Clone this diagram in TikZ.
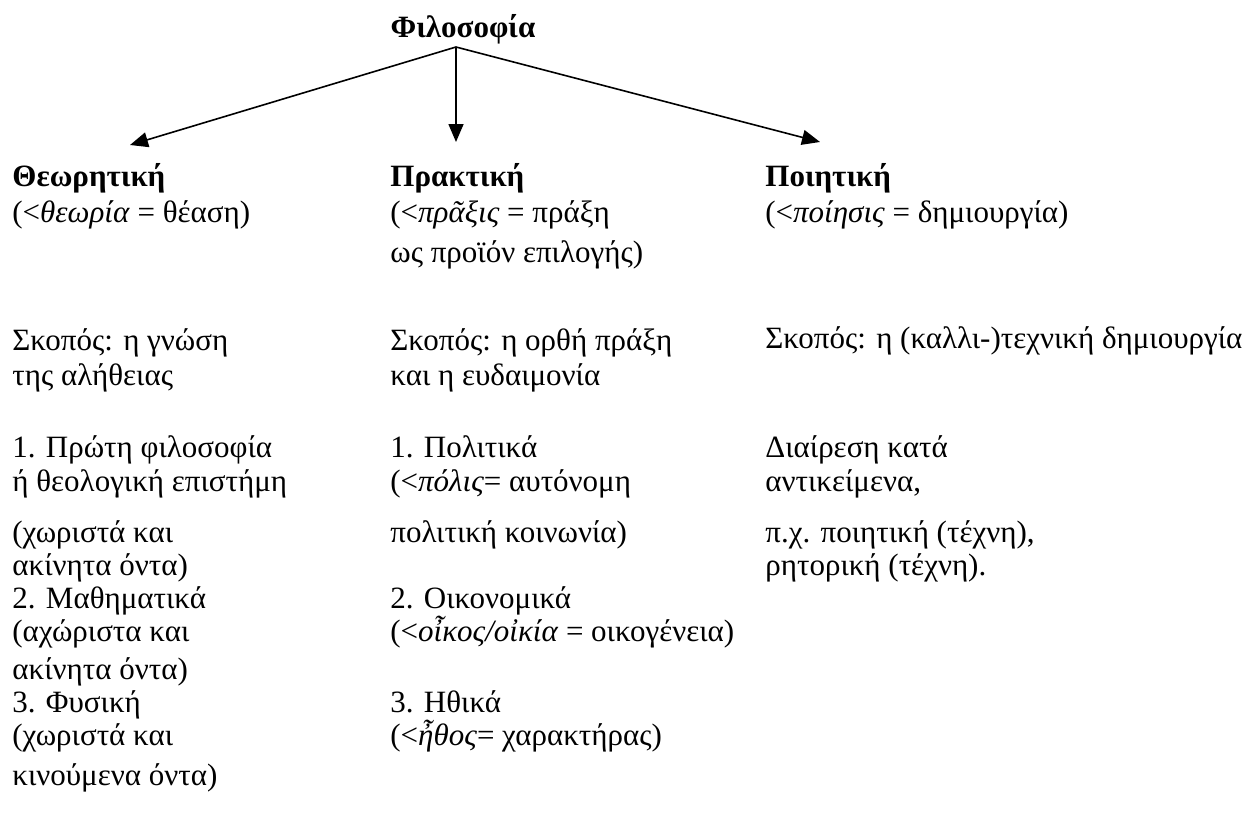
\documentclass[tikz,border=0pt]{standalone}
\usepackage{fontspec}
\setmainfont{Liberation Serif}
\usetikzlibrary{arrows.meta}
\begin{document}
\begin{tikzpicture}[x=0.5pt,y=-0.5pt,
  txt/.style={anchor=base west,inner sep=0pt,font=\fontsize{15.5}{18}\selectfont},
  hd/.style={anchor=base west,inner sep=0pt,font=\fontsize{15.5}{18}\selectfont\bfseries},
  arr/.style={line width=0.8pt,-{Triangle[length=9pt,width=7.5pt]}}]
\useasboundingbox (0,0) rectangle (1259,825);
% root and headings
\node[hd,anchor=base] (phil) at (463,37) {Φιλοσοφία};
\node[hd] (th) at (12,186) {Θεωρητική};
\node[hd] (pr) at (390,186) {Πρακτική};
\node[hd] (po) at (765,186) {Ποιητική};
% left column
\node[txt] (l1) at (12,222) {(<\textit{θεωρία} = θέαση)};
\node[txt] (l2) at (12,350) {Σκοπός: η γνώση};
\node[txt] (l3) at (12,385) {της αλήθειας};
\node[txt] (l4) at (12,457) {1. Πρώτη φιλοσοφία};
\node[txt] (l5) at (12,491) {ή θεολογική επιστήμη};
\node[txt] (l6) at (12,542) {(χωριστά και};
\node[txt] (l7) at (12,575) {ακίνητα όντα)};
\node[txt] (l8) at (12,608) {2. Μαθηματικά};
\node[txt] (l9) at (12,641) {(αχώριστα και};
\node[txt] (l10) at (12,679) {ακίνητα όντα)};
\node[txt] (l11) at (12,712) {3. Φυσική};
\node[txt] (l12) at (12,745) {(χωριστά και};
\node[txt] (l13) at (12,785) {κινούμενα όντα)};
% middle column
\node[txt] (m1) at (390,222) {(<\textit{πρᾶξις} = πράξη};
\node[txt] (m2) at (390,262) {ως προϊόν επιλογής)};
\node[txt] (m3) at (390,350) {Σκοπός: η ορθή πράξη};
\node[txt] (m4) at (390,385) {και η ευδαιμονία};
\node[txt] (m5) at (390,457) {1. Πολιτικά};
\node[txt] (m6) at (390,491) {(<\textit{πόλις}= αυτόνομη};
\node[txt] (m7) at (390,542) {πολιτική κοινωνία)};
\node[txt] (m8) at (390,608) {2. Οικονομικά};
\node[txt] (m9) at (390,641) {(<\textit{οἶκος/οἰκία} = οικογένεια)};
\node[txt] (m10) at (390,712) {3. Ηθικά};
\node[txt] (m11) at (390,745) {(<\textit{ἦθος}= χαρακτήρας)};
% right column
\node[txt] (r1) at (765,222) {(<\textit{ποίησις} = δημιουργία)};
\node[txt] (r2) at (765,348) {Σκοπός: η (καλλι-)τεχνική δημιουργία};
\node[txt] (r3) at (765,457) {Διαίρεση κατά};
\node[txt] (r4) at (765,491) {αντικείμενα,};
\node[txt] (r5) at (765,542) {π.χ. ποιητική (τέχνη),};
\node[txt] (r6) at (765,575) {ρητορική (τέχνη).};
% arrows
\coordinate (fork) at (456,47);
\coordinate (tL) at (130,145);
\coordinate (tM) at (456,142);
\coordinate (tR) at (820,142);
\draw[arr] (fork) -- (tL);
\draw[arr] (fork) -- (tM);
\draw[arr] (fork) -- (tR);
\end{tikzpicture}
\end{document}
